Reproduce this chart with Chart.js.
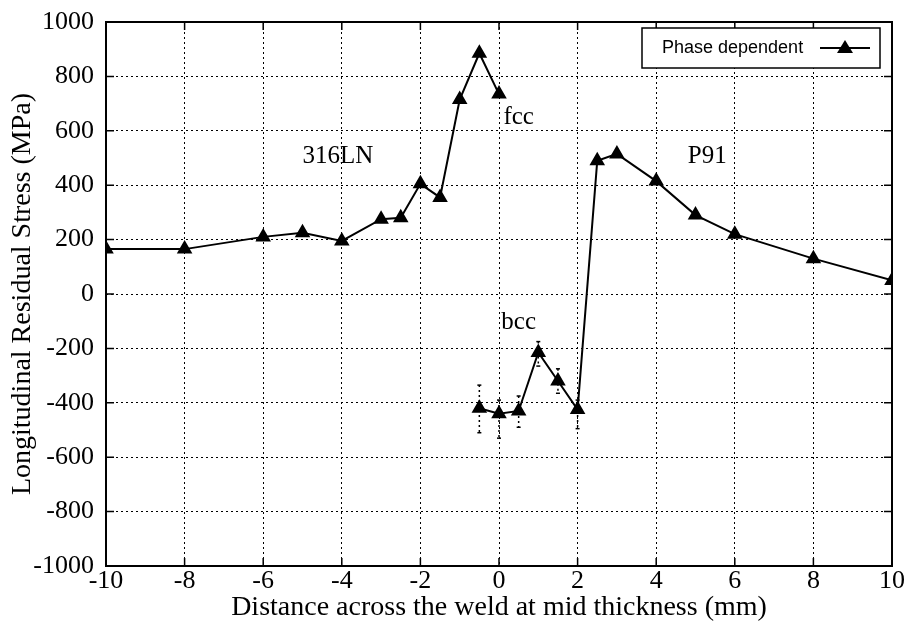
<!DOCTYPE html>
<html>
<head>
<meta charset="utf-8">
<script src="https://cdn.jsdelivr.net/npm/chart.js@4.4.1/dist/chart.umd.min.js"></script>
<style>
  body { margin: 0; background: #fff; }
  #wrap { width: 910px; height: 628px; }
</style>
</head>
<body>
<div id="wrap"><canvas id="myChart" width="910" height="628"></canvas></div>
<script>
// fcc branch (316LN side), ends at x = 0
let xFcc = [-10, -8, -6, -5, -4, -3, -2.5, -2, -1.5, -1, -0.5, 0];
let yFcc = [165, 165, 210, 225, 195, 275, 280, 405, 355, 715, 885, 735];

// bcc branch, runs on into P91
let xBcc = [-0.5, 0, 0.5, 1, 1.5, 2, 2.5, 3, 4, 5, 6, 8, 10];
let yBcc = [-420, -440, -430, -215, -320, -425, 490, 515, 415, 290, 220, 130, 50];
let errHi = [-335, -390, -375, -175, -275, -390, null, null, null, null, null, null, null];
let errLo = [-510, -530, -490, -265, -365, -495, null, null, null, null, null, null, null];

let xTicks = [-10, -8, -6, -4, -2, 0, 2, 4, 6, 8, 10];
let yTicks = [-1000, -800, -600, -400, -200, 0, 200, 400, 600, 800, 1000];

let notes = [
    { text: "316LN", x: -4.1, y: 505 },
    { text: "fcc", x: 0.5, y: 650 },
    { text: "bcc", x: 0.5, y: -105 },
    { text: "P91", x: 5.3, y: 505 }
];
let legendLabel = "Phase dependent";

let serif = "'Liberation Serif', 'DejaVu Serif', serif";
let sans = "'Liberation Sans', Arial, sans-serif";

function pts(xs, ys) {
    return xs.map((x, i) => ({ x: x, y: ys[i] }));
}

let extras = {
    id: "extras",
    afterDatasetsDraw(chart) {
        let ctx = chart.ctx;
        let xs = chart.scales.x, ys = chart.scales.y;
        let a = chart.chartArea;

        // error bars (dotted)
        ctx.save();
        ctx.strokeStyle = "#000";
        ctx.lineWidth = 1.5;
        xBcc.forEach((x, i) => {
            if (errHi[i] == null) return;
            let px = xs.getPixelForValue(x);
            ctx.setLineDash([2, 3]);
            ctx.beginPath();
            ctx.moveTo(px, ys.getPixelForValue(errHi[i]));
            ctx.lineTo(px, ys.getPixelForValue(errLo[i]));
            ctx.stroke();
            ctx.setLineDash([]);
            [errHi[i], errLo[i]].forEach(v => {
                ctx.beginPath();
                ctx.moveTo(px - 2, ys.getPixelForValue(v));
                ctx.lineTo(px + 2, ys.getPixelForValue(v));
                ctx.stroke();
            });
        });
        ctx.restore();

        // frame and inward ticks
        ctx.save();
        ctx.strokeStyle = "#000";
        ctx.lineWidth = 2;
        ctx.strokeRect(a.left, a.top, a.right - a.left, a.bottom - a.top);
        ctx.lineWidth = 1.5;
        ctx.beginPath();
        xTicks.forEach(t => {
            let px = xs.getPixelForValue(t);
            ctx.moveTo(px, a.bottom); ctx.lineTo(px, a.bottom - 8);
            ctx.moveTo(px, a.top); ctx.lineTo(px, a.top + 8);
        });
        yTicks.forEach(t => {
            let py = ys.getPixelForValue(t);
            ctx.moveTo(a.left, py); ctx.lineTo(a.left + 8, py);
            ctx.moveTo(a.right, py); ctx.lineTo(a.right - 8, py);
        });
        ctx.stroke();
        ctx.restore();

        // labels in the plot
        ctx.save();
        ctx.fillStyle = "#000";
        ctx.font = "25px " + serif;
        ctx.textAlign = "center";
        ctx.textBaseline = "middle";
        notes.forEach(n => {
            ctx.fillText(n.text, xs.getPixelForValue(n.x), ys.getPixelForValue(n.y));
        });
        ctx.restore();

        // legend box
        ctx.save();
        ctx.fillStyle = "#fff";
        ctx.fillRect(642, 28, 238, 40);
        ctx.strokeStyle = "#000";
        ctx.lineWidth = 1.5;
        ctx.strokeRect(642, 28, 238, 40);
        ctx.fillStyle = "#000";
        ctx.font = "18px " + sans;
        ctx.textAlign = "left";
        ctx.textBaseline = "middle";
        ctx.fillText(legendLabel, 662, 48);
        ctx.lineWidth = 2;
        ctx.beginPath();
        ctx.moveTo(820, 48); ctx.lineTo(870, 48);
        ctx.stroke();
        ctx.beginPath();
        ctx.moveTo(845, 40); ctx.lineTo(853, 53); ctx.lineTo(837, 53);
        ctx.closePath();
        ctx.fill();
        ctx.restore();
    }
};

let ds = {
    borderColor: "#000",
    backgroundColor: "#000",
    borderWidth: 2,
    pointStyle: "triangle",
    pointRadius: 7,
    pointHoverRadius: 7,
    showLine: true,
    tension: 0
};

let myChart = new Chart(document.getElementById("myChart"), {
    type: "scatter",
    data: {
        datasets: [
            Object.assign({ label: legendLabel, data: pts(xFcc, yFcc) }, ds),
            Object.assign({ label: "bcc", data: pts(xBcc, yBcc) }, ds)
        ]
    },
    options: {
        responsive: false,
        animation: false,
        layout: { padding: { top: 22, right: 18, left: 0, bottom: 0 } },
        plugins: {
            legend: { display: false },
            tooltip: { enabled: false }
        },
        scales: {
            x: {
                type: "linear",
                min: -10,
                max: 10,
                afterBuildTicks: s => { s.ticks = xTicks.map(v => ({ value: v })); },
                afterFit: s => { s.height = 62; s.paddingLeft = 0; s.paddingRight = 0; },
                grid: { color: "#000", lineWidth: 1, drawTicks: false },
                border: { display: false, dash: [2, 3] },
                ticks: { color: "#000", font: { family: serif, size: 26 }, padding: 0, maxRotation: 0, callback: v => String(v) },
                title: { display: true, text: "Distance across the weld at mid thickness (mm)", color: "#000", font: { family: serif, size: 28 }, padding: { top: 0, bottom: 4 } }
            },
            y: {
                type: "linear",
                min: -1000,
                max: 1000,
                afterBuildTicks: s => { s.ticks = yTicks.map(v => ({ value: v })); },
                afterFit: s => { s.width = 106; s.paddingTop = 0; s.paddingBottom = 0; },
                grid: { color: "#000", lineWidth: 1, drawTicks: false },
                border: { display: false, dash: [2, 3] },
                ticks: { color: "#000", font: { family: serif, size: 26 }, padding: 12, callback: v => String(v) },
                title: { display: true, text: "Longitudinal Residual Stress (MPa)", color: "#000", font: { family: serif, size: 28 }, padding: { top: 6, bottom: 0 } }
            }
        }
    },
    plugins: [extras]
});
</script>
</body>
</html>
